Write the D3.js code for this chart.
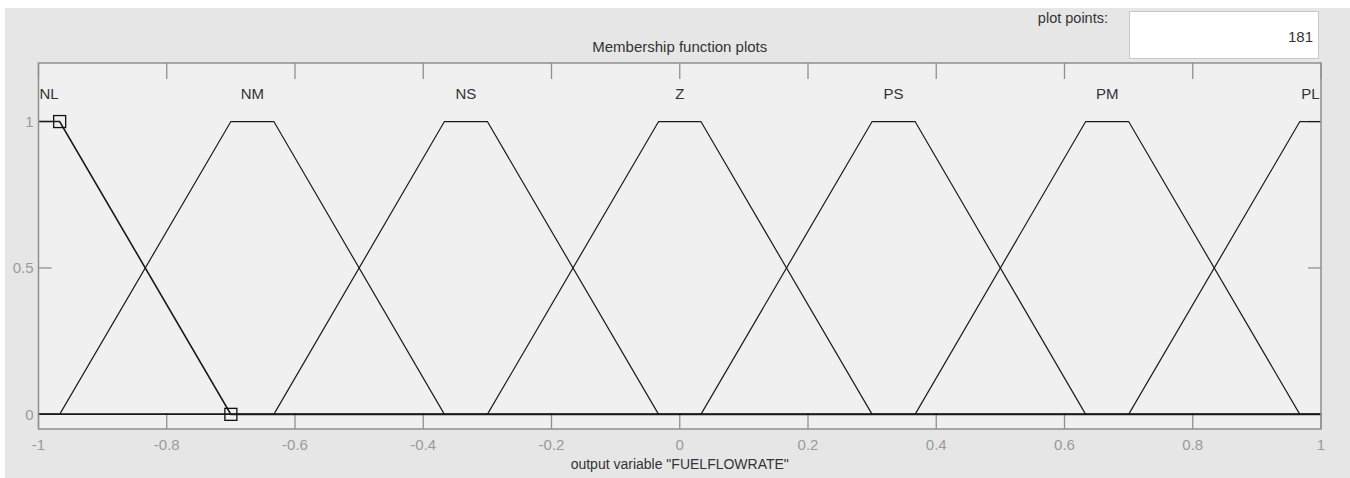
<!DOCTYPE html>
<html>
<head>
<meta charset="utf-8">
<title>Membership function plots</title>
<script src="https://d3js.org/d3.v7.min.js"></script>
<style>
  body { margin: 0; background: #fff; }
  text { font-family: "Liberation Sans", Arial, sans-serif; }
</style>
</head>
<body>
<div id="chart"></div>
<script>
// membership functions (trapmf params a b c d)
const mfNames = ['NL', 'NM', 'NS', 'Z', 'PS', 'PM', 'PL'];
const mfParams = [
  [-1.267, -1.0, -0.967, -0.7],
  [-0.967, -0.7, -0.633, -0.367],
  [-0.633, -0.367, -0.3, -0.033],
  [-0.3, -0.033, 0.033, 0.3],
  [0.033, 0.3, 0.367, 0.633],
  [0.367, 0.633, 0.7, 0.967],
  [0.7, 0.967, 1.033, 1.3]
];
const selected = 'NL';
const xTicks = [-1, -0.8, -0.6, -0.4, -0.2, 0, 0.2, 0.4, 0.6, 0.8, 1];
const yTicks = [0, 0.5, 1];
const plotPoints = '181';
const xLabel = 'output variable "FUELFLOWRATE"';

const width = 1350;
const height = 478;
const margin = { top: 63, right: 29, bottom: 49, left: 38.5 };

const svg = d3.select('#chart')
  .append('svg')
  .attr('width', width)
  .attr('height', height);

// figure background
svg.append('rect')
  .attr('x', 5).attr('y', 8)
  .attr('width', width - 5).attr('height', height - 8)
  .attr('fill', '#e6e6e6');

const x = d3.scaleLinear().domain([-1, 1]).range([margin.left, width - margin.right]);
const y = d3.scaleLinear().domain([-0.05, 1.2]).range([height - margin.bottom, margin.top]);

const x0 = x.range()[0], x1 = x.range()[1];
const yTop = y.range()[1], yBot = y.range()[0];

svg.append('rect')
  .attr('x', x0).attr('y', yTop)
  .attr('width', x1 - x0).attr('height', yBot - yTop)
  .attr('fill', '#f0f0f0');

svg.append('clipPath').attr('id', 'clip')
  .append('rect')
  .attr('x', x0).attr('y', yTop - 2)
  .attr('width', x1 - x0).attr('height', yBot - yTop + 4);

// ticks inside the box
const axisColor = '#8f8f8f';
const ticksG = svg.append('g').attr('stroke', axisColor).attr('stroke-width', 1.3);
xTicks.forEach(t => {
  ticksG.append('line').attr('x1', x(t)).attr('x2', x(t)).attr('y1', yBot).attr('y2', yBot - 16);
  ticksG.append('line').attr('x1', x(t)).attr('x2', x(t)).attr('y1', yTop).attr('y2', yTop + 16);
});
yTicks.forEach(t => {
  ticksG.append('line').attr('x1', x0).attr('x2', x0 + 13).attr('y1', y(t)).attr('y2', y(t));
  ticksG.append('line').attr('x1', x1).attr('x2', x1 - 13).attr('y1', y(t)).attr('y2', y(t));
});

// tick labels
svg.append('g')
  .selectAll('text')
  .data(xTicks)
  .join('text')
  .attr('x', d => x(d))
  .attr('y', 450)
  .attr('text-anchor', 'middle')
  .attr('fill', '#9a9a9a')
  .style('font-size', '15px')
  .text(d => String(d));

svg.append('g')
  .selectAll('text')
  .data(yTicks)
  .join('text')
  .attr('x', x0 - 5)
  .attr('y', d => y(d))
  .attr('dy', '0.36em')
  .attr('text-anchor', 'end')
  .attr('fill', '#9a9a9a')
  .style('font-size', '15px')
  .text(d => d);

// membership function lines
const line = d3.line().x(d => x(d[0])).y(d => y(d[1]));
const mfG = svg.append('g').attr('clip-path', 'url(#clip)');
mfParams.forEach((p, i) => {
  const pts = [[Math.min(-1, p[0]), 0], [p[0], 0], [p[1], 1], [p[2], 1], [p[3], 0], [Math.max(1, p[3]), 0]];
  mfG.append('path')
    .attr('d', line(pts))
    .attr('fill', 'none')
    .attr('stroke', '#1a1a1a')
    .attr('stroke-width', mfNames[i] === selected ? 1.6 : 1.2);
});

// vertex markers on the selected function
const sel = mfParams[mfNames.indexOf(selected)];
const verts = [[sel[0], 0], [sel[1], 1], [sel[2], 1], [sel[3], 0]].filter(v => v[0] > -1 && v[0] < 1);
svg.append('g')
  .selectAll('rect')
  .data(verts)
  .join('rect')
  .attr('x', d => x(d[0]) - 6)
  .attr('y', d => y(d[1]) - 6)
  .attr('width', 12).attr('height', 12)
  .attr('fill', 'none')
  .attr('stroke', '#111')
  .attr('stroke-width', 1.3);

// MF names above the peaks
const labelG = svg.append('g');
mfParams.forEach((p, i) => {
  const t = labelG.append('text')
    .attr('y', 99)
    .attr('fill', '#333')
    .style('font-size', '15px')
    .text(mfNames[i]);
  const w = t.node().getComputedTextLength();
  const c = x((Math.max(p[1], -1) + Math.min(p[2], 1)) / 2);
  const cx = Math.max(x0 - 2 + w / 2, Math.min(x1 - w / 2, c));
  t.attr('x', cx).attr('text-anchor', 'middle');
});

// box outline
svg.append('rect')
  .attr('x', x0).attr('y', yTop)
  .attr('width', x1 - x0).attr('height', yBot - yTop)
  .attr('fill', 'none')
  .attr('stroke', axisColor)
  .attr('stroke-width', 1.5);

// titles
svg.append('text')
  .attr('x', (x0 + x1) / 2)
  .attr('y', 52)
  .attr('text-anchor', 'middle')
  .attr('fill', '#333')
  .style('font-size', '15px')
  .text('Membership function plots');

svg.append('text')
  .attr('x', (x0 + x1) / 2)
  .attr('y', 469)
  .attr('text-anchor', 'middle')
  .attr('fill', '#333')
  .style('font-size', '14px')
  .text(xLabel);

// plot points box
svg.append('text')
  .attr('x', 1108)
  .attr('y', 23)
  .attr('text-anchor', 'end')
  .attr('fill', '#333')
  .style('font-size', '14.5px')
  .text('plot points:');

svg.append('rect')
  .attr('x', 1129.5).attr('y', 11.5)
  .attr('width', 189).attr('height', 47)
  .attr('fill', '#fff')
  .attr('stroke', '#c8c8c8');

svg.append('text')
  .attr('x', 1313)
  .attr('y', 42)
  .attr('text-anchor', 'end')
  .attr('fill', '#333')
  .style('font-size', '15px')
  .text(plotPoints);
</script>
</body>
</html>
